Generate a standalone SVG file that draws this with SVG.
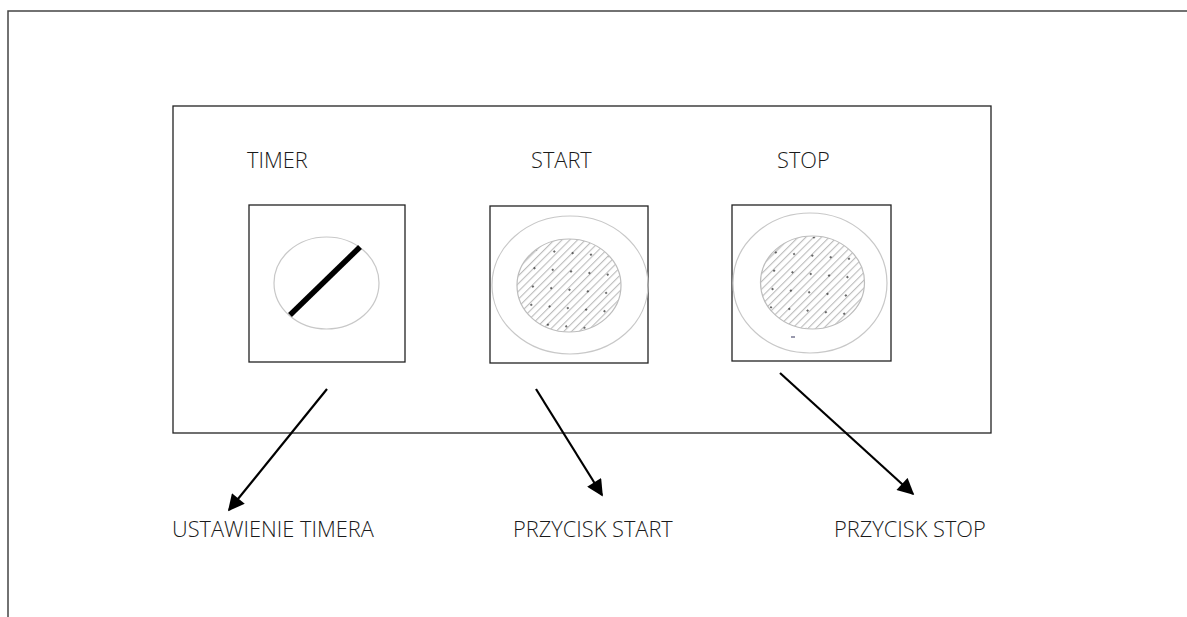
<svg xmlns="http://www.w3.org/2000/svg" width="1187" height="617" viewBox="0 0 1187 617">
<style>
.frame{fill:none;stroke:#444;stroke-width:1.5}
.box{fill:#fff;stroke:#222;stroke-width:1.3}
.ring{fill:none;stroke:#c8c8c8;stroke-width:1.2}
.hatch{fill:url(#hatch);stroke:#bdbdbd;stroke-width:1.2}
.lbl{font-family:"Open Sans","Liberation Sans",sans-serif;font-size:21.8px;font-weight:300;fill:#1a1a1a}
.arrow{stroke:#000;stroke-width:2.2;fill:none;marker-end:url(#ah)}
</style>
<defs>
<pattern id="hatch" patternUnits="userSpaceOnUse" width="5.5" height="5.5" patternTransform="rotate(-45)">
<rect width="5.5" height="5.5" fill="#fff"/>
<line x1="0" y1="0.6" x2="5.5" y2="0.6" stroke="#b5b5b5" stroke-width="1"/>
</pattern>
<pattern id="dots" patternUnits="userSpaceOnUse" width="26" height="26" patternTransform="rotate(-40)">
<circle cx="3" cy="3" r="0.9" fill="#222"/>
<circle cx="16" cy="16" r="0.9" fill="#222"/>
</pattern>
<marker id="ah" viewBox="0 0 10 10" refX="9" refY="5" markerWidth="8" markerHeight="7.5" orient="auto" markerUnits="strokeWidth">
<path d="M0,0 L10,5 L0,10 Z" fill="#000"/>
</marker>
</defs>
<rect width="1187" height="617" fill="#fff"/>
<g id="frame">
<path class="frame" d="M8,617 V11 H1187"/>
</g>
<g id="panel">
<rect class="box" x="173" y="106" width="818" height="327"/>
</g>
<g id="timer">
<text class="lbl" x="247" y="168">TIMER</text>
<rect class="box" x="249" y="205" width="156" height="157"/>
<ellipse class="ring" cx="326.5" cy="283" rx="52.5" ry="46"/>
<line x1="290" y1="315" x2="360" y2="247" stroke="#000" stroke-width="5.5"/>
</g>
<g id="start">
<text class="lbl" x="531" y="168">START</text>
<rect class="box" x="490" y="206" width="158" height="157"/>
<ellipse class="ring" cx="570" cy="285" rx="78" ry="69"/>
<ellipse class="hatch" cx="569" cy="285.5" rx="52" ry="46.5"/>
<ellipse cx="569" cy="285.5" rx="51" ry="45.5" fill="url(#dots)"/>
</g>
<g id="stop">
<text class="lbl" x="777" y="168">STOP</text>
<rect class="box" x="732" y="205" width="159" height="156"/>
<ellipse class="ring" cx="810" cy="283" rx="77" ry="70"/>
<ellipse class="hatch" cx="812.5" cy="282.5" rx="52" ry="46.5"/>
<ellipse cx="812.5" cy="282.5" rx="51" ry="45.5" fill="url(#dots)"/>
<line x1="791" y1="337" x2="795" y2="337" stroke="#557" stroke-width="1.2"/>
</g>
<g id="connectors">
<line class="arrow" x1="327" y1="389" x2="229" y2="510"/>
<line class="arrow" x1="536" y1="389" x2="602" y2="495"/>
<line class="arrow" x1="780" y1="373" x2="913" y2="494"/>
</g>
<g id="labels">
<text class="lbl" x="172" y="537">USTAWIENIE TIMERA</text>
<text class="lbl" x="513" y="537">PRZYCISK START</text>
<text class="lbl" x="834" y="537">PRZYCISK STOP</text>
</g>
</svg>
